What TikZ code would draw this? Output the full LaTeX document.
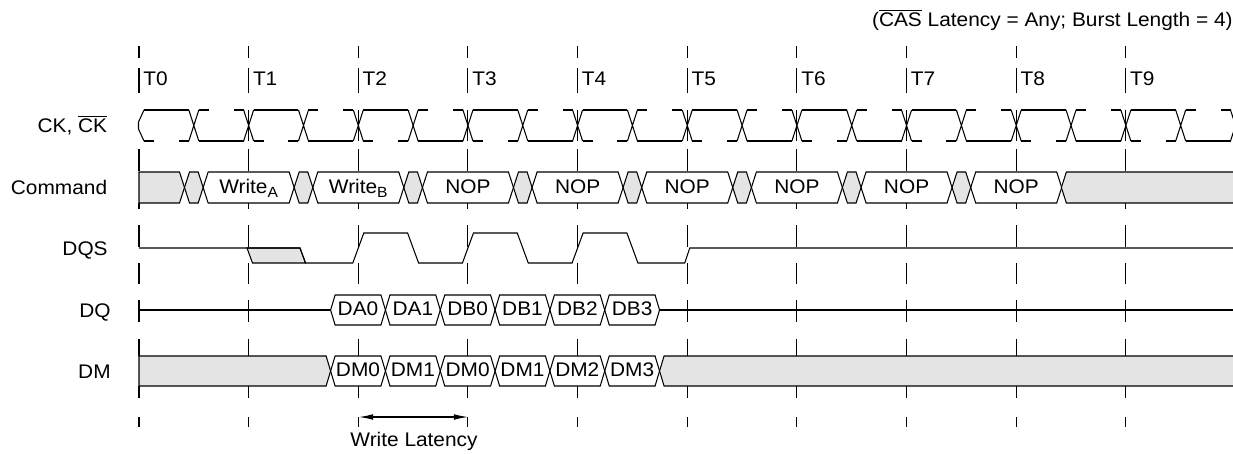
\documentclass[tikz,border=0pt]{standalone}
\usepackage{fontspec}
\setmainfont{Liberation Sans}[FakeStretch=1.06]
\usetikzlibrary{arrows.meta}

\definecolor{dcgray}{HTML}{E4E4E4}
\newcommand{\slw}{5}
\newcommand{\hexcell}[5][sig]{%
  \draw[#1] (#2,{(#4+#5)/2}) -- ({#2+\slw},#4) -- ({#3-\slw},#4)
    -- (#3,{(#4+#5)/2}) -- ({#3-\slw},#5) -- ({#2+\slw},#5) -- cycle;}
\newcommand{\lowidx}[1]{\raisebox{-2.6pt}{\fontsize{8.4}{10}\selectfont #1}}

\tikzset{
  sig/.style={line width=0.6pt},
  dc/.style={sig, fill=dcgray},
  tick/.style={line width=0.6pt},
  lbl/.style={font=\fontsize{11.2}{13}\selectfont, inner sep=0pt},
}

\begin{document}
\begin{tikzpicture}[x=0.02cm, y=-0.02cm]
\useasboundingbox (0,0) rectangle (1233,453);
\clip (0,0) rectangle (1233,453);

% clock edges
\foreach \i in {0,...,9}{
  \pgfmathsetmacro{\tx}{139+109.65*\i}
  \coordinate (T\i) at (\tx,0);
  \foreach \a/\b in {46/58,68/93,149/171,203/209,225/247,263/284,339/356,386/398,417/427}
    \draw[tick] (\tx,\a) -- (\tx,\b);
  \ifnum\i>0 \draw[tick] (\tx,110) -- (\tx,141); \fi
  \ifnum\i<2 \draw[tick] (\tx,300) -- (\tx,322); \fi
  \ifnum\i>4 \draw[tick] (\tx,300) -- (\tx,322); \fi
  \node[lbl, anchor=base west] (t\i) at (\tx+4,85) {T\i};
}

\node[lbl, anchor=base east] (note) at (1233,27) {($\overline{\mbox{CAS}}$ Latency = Any; Burst Length = 4)};
\node[lbl, anchor=base east] (ck)  at (107.5,132.5) {CK, $\overline{\mbox{CK}}$};
\node[lbl, anchor=base east] (cmd) at (107.5,194.5) {Command};
\node[lbl, anchor=base east] (dqs) at (108,255) {DQS};
\node[lbl, anchor=base east] (dq)  at (111,317) {DQ};
\node[lbl, anchor=base east] (dm)  at (111,378) {DM};

% CK
\draw[sig] (144,110) -- (138.5,122) -- (138.5,129) -- (144,141);
\foreach \k in {0,...,19}{
  \pgfmathsetmacro{\xa}{139+54.825*\k+5}
  \pgfmathsetmacro{\xb}{139+54.825*(\k+1)-5}
  \pgfmathsetmacro{\yc}{110+31*mod(\k,2)}
  \pgfmathsetmacro{\yn}{141-31*mod(\k,2)}
  \draw[sig] (\xa,\yc) -- (\xb,\yc);
  \draw[sig] (\xa,\yn) -- ++(10,0) (\xb,\yn) -- ++(-10,0);
  \draw[sig] (\xb,110) -- ++(10,31) (\xb,141) -- ++(10,-31);
}

% Command
\draw[dc] (139,172) -- (179.5,172) -- (184.5,187.5) -- (179.5,203) -- (139,203) -- cycle;
\foreach \k in {0,...,7}{
  \pgfmathsetmacro{\xl}{139+109.65*\k+45.5}
  \pgfmathsetmacro{\xr}{139+109.65*(\k+1)-45.5}
  \hexcell[dc]{\xl}{\xr}{172}{203}
}
\foreach \k/\txt in {1/Write\lowidx{A},2/Write\lowidx{B},3/NOP,4/NOP,5/NOP,6/NOP,7/NOP,8/NOP}{
  \pgfmathsetmacro{\xc}{139+109.65*\k}
  \hexcell{\xc-45.5}{\xc+45.5}{172}{203}
  \node[lbl, anchor=base] (cmd\k) at (\xc,193) {\txt};
}
\draw[dc] (1061.35,187.5) -- (1066.35,172) -- (1240,172) -- (1240,203) -- (1066.35,203) -- cycle;

% DQS
\draw[dc] (247,248) -- (300,248) -- (305.5,263) -- (252.5,263) -- cycle;
\draw[sig] (139,248) -- (300,248) -- (305.5,263)
  \foreach \k in {2,3,4}{ -- ({139+109.65*\k-5.5},263) -- ({139+109.65*\k+5.5},233)
    -- ({139+109.65*\k+49.3},233) -- ({139+109.65*\k+60.3},263) }
  -- (684.75,263) -- (689.75,248) -- (1240,248);

% DQ
\renewcommand{\slw}{4.5}
\draw[sig] (139,310) -- (330.6,310);
\foreach \k/\txt in {0/DA0,1/DA1,2/DB0,3/DB1,4/DB2,5/DB3}{
  \pgfmathsetmacro{\xl}{330.6+54.825*\k}
  \pgfmathsetmacro{\xr}{\xl+54.825}
  \hexcell{\xl}{\xr}{295}{325}
  \node[lbl, anchor=base] (dq\k) at ({(\xl+\xr)/2},315.5) {\txt};
}
\draw[sig] (659.55,310) -- (1240,310);

% DM
\draw[dc] (139,356) -- (326.1,356) -- (330.6,371) -- (326.1,386) -- (139,386) -- cycle;
\foreach \k/\txt in {0/DM0,1/DM1,2/DM0,3/DM1,4/DM2,5/DM3}{
  \pgfmathsetmacro{\xl}{330.6+54.825*\k}
  \pgfmathsetmacro{\xr}{\xl+54.825}
  \hexcell{\xl}{\xr}{356}{386}
  \node[lbl, anchor=base] (dm\k) at ({(\xl+\xr)/2},376.5) {\txt};
}
\draw[dc] (659.55,371) -- (664.05,356) -- (1240,356) -- (1240,386) -- (664.05,386) -- cycle;

% latency
\coordinate (wlL) at (359,417);
\coordinate (wlR) at (468,417);
\draw[sig, {Latex[length=8pt,width=3.2pt]}-{Latex[length=8pt,width=3.2pt]}] (wlL) -- (wlR);
\node[lbl, anchor=base] (wl) at (414,446) {Write Latency};
\end{tikzpicture}
\end{document}
